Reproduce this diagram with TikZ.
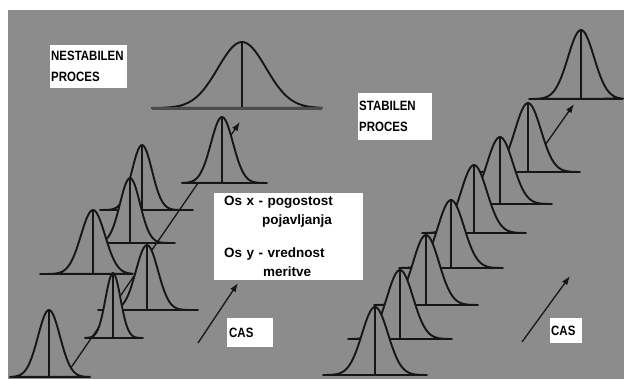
\documentclass[tikz,border=0pt]{standalone}
\usepackage{fontspec}
\setmainfont{Liberation Sans}
\newfontfamily\capsfont[FakeStretch=0.85]{Liberation Sans}
\usepackage{xcolor}
\usepackage{tikz}
\usetikzlibrary{arrows.meta}
\definecolor{bggray}{RGB}{140,140,140}
\definecolor{ink}{RGB}{22,22,22}
\tikzset{
    lbl/.style={fill=white, font=\capsfont\bfseries\fontsize{13.5}{21}\selectfont, align=left,
                inner sep=1pt, anchor=north west},
    bell/.style={draw=ink, fill=bggray, line width=1.9pt, line join=round},
    axisln/.style={draw=ink, line width=1.9pt},
    arr/.style={-{Latex[length=9pt, width=6.5pt]}, line width=1.3pt, ink},
}
% bell curve: name, centre x, base y, height, sigma, left x, right x
\newcommand{\bellcurve}[7]{%
    \filldraw[bell] plot[domain=#6:#7, samples=60, smooth]
        (\x, {#3-#4*exp(-((\x-#2)^2)/(2*#5*#5))}) -- cycle;
    \coordinate (#1-top) at (#2,#3-#4);
    \coordinate (#1-base) at (#2,#3);
    \coordinate (#1-l) at (#6,#3);
    \coordinate (#1-r) at (#7,#3);
    \draw[axisln] (#1-l) -- (#1-r);
    \draw[axisln] (#1-top) -- (#1-base);
}

\begin{document}
\begin{tikzpicture}[x=1pt, y=-1pt]
    \useasboundingbox (0,0) rectangle (624,380);
    \fill[white] (0,0) rectangle (624,380);
    \fill[bggray] (8,10) rectangle (624,379);

    % nestabilen proces
    \coordinate (nArrStart) at (68,372);
    \coordinate (nArrEnd) at (240,122);
    \draw[arr] (nArrStart) -- (nArrEnd);
    \bellcurve{n8}{242}{108}{66}{24}{152}{322}
    \draw[axisln, line width=3pt, black!70] (n8-l) -- (n8-r);
    \bellcurve{n7}{222}{183}{66}{11}{182}{267}
    \bellcurve{n6}{142}{210}{65}{10}{100}{193}
    \bellcurve{n5}{130}{243}{65}{10}{92}{175}
    \bellcurve{n3}{147}{310}{65}{11}{98}{198}
    \bellcurve{n4}{93}{274}{64}{12}{40}{133}
    \bellcurve{n2}{113}{338}{65}{7.5}{85}{143}
    \bellcurve{n1}{49}{377}{67}{11}{10}{90}

    % stabilen proces
    \coordinate (sArrStart) at (543,148);
    \coordinate (sArrEnd) at (574,104);
    \draw[arr] (sArrStart) -- (sArrEnd);
    \foreach \i/\cx/\base/\h [evaluate=\cx as \lo using \cx-52,
                              evaluate=\cx as \hi using {min(\cx+52,623)}]
        in {8/581/99/69, 7/528/172/69, 6/500/204/67, 5/474/233/68,
            4/451/268/68, 3/426/305/70, 2/400/339/69, 1/375/375/68}
        {\bellcurve{s\i}{\cx}{\base}{\h}{13}{\lo}{\hi}}

    % labels
    \node[lbl, text width=75pt, minimum height=43pt] (nestab) at (50,45) {NESTABILEN\\PROCES};
    \node[lbl, text width=72pt, minimum height=47pt] (stab) at (358,93) {STABILEN\\PROCES};
    \node[lbl, font=\bfseries\fontsize{13.5}{19}\selectfont, inner xsep=10pt, text width=129pt,
          minimum height=87pt] (axes) at (214,193)
          {Os x - pogostost\\\hspace*{38pt}pojavljanja\\[14pt]Os y - vrednost\\\hspace*{39pt}meritve};
    \node[lbl, inner xsep=2pt, text width=42pt, minimum height=29pt] (casL) at (227,318) {CAS};
    \node[lbl, text width=30pt, minimum height=25pt] (casR) at (550,318) {CAS};

    % time arrows
    \coordinate (tL0) at (198,343);
    \coordinate (tL1) at (238,283);
    \coordinate (tR0) at (522,342);
    \coordinate (tR1) at (570,276);
    \draw[arr] (tL0) -- (tL1);
    \draw[arr] (tR0) -- (tR1);
\end{tikzpicture}
\end{document}
